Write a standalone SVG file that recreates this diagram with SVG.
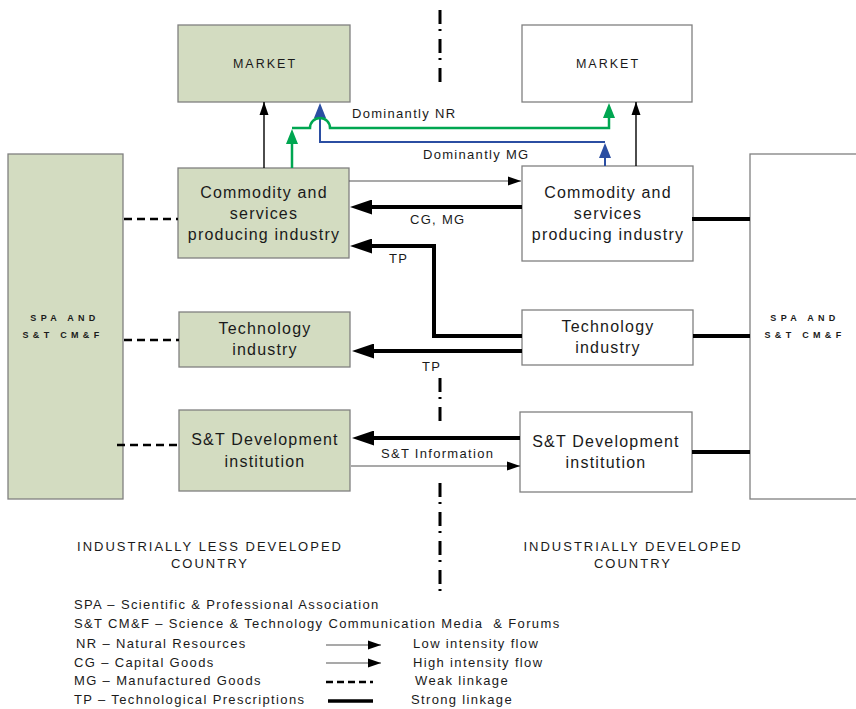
<svg xmlns="http://www.w3.org/2000/svg" width="856" height="709" viewBox="0 0 856 709">
<style>
.box{stroke:#808080;stroke-width:1.3}
.g{fill:#d3dcc1}
.w{fill:#ffffff}
text{font-family:"Liberation Sans",Arial,sans-serif;fill:#1a1a1a}
.nt{font-size:16px;letter-spacing:1.2px;text-anchor:middle}
.mk{font-size:12.5px;letter-spacing:2px;text-anchor:middle}
.lb{font-size:13px;letter-spacing:1.3px}
.lg{font-size:13px;letter-spacing:1.35px}
.ct{font-size:13px;letter-spacing:2px;text-anchor:middle}
.spa{font-family:"Liberation Sans Narrow","Liberation Sans",sans-serif;font-size:9px;font-weight:bold;letter-spacing:4.3px;text-anchor:middle}
.thin{fill:none;stroke:#555;stroke-width:1.1}
.blk{fill:none;stroke:#000;stroke-width:1.4}
.thick{fill:none;stroke:#000;stroke-width:4}
.weak{fill:none;stroke:#000;stroke-width:2.5;stroke-dasharray:8 5}
.strong{fill:none;stroke:#000;stroke-width:4}
.grn{fill:none;stroke:#00a651;stroke-width:2.5}
.blu{fill:none;stroke:#2b4ea2;stroke-width:2}
.dd{fill:none;stroke:#000;stroke-width:3;stroke-dasharray:14 5 2 8}
</style>
<defs>
<marker id="ah" markerUnits="userSpaceOnUse" markerWidth="14" markerHeight="10" refX="13" refY="5" orient="auto"><path d="M0,0.5 L13,5 L0,9.5 z" fill="#000"/></marker>
<marker id="ahT" markerUnits="userSpaceOnUse" markerWidth="23" markerHeight="15" refX="1" refY="7.5" orient="auto"><path d="M0,0 L22,7.5 L0,15 z" fill="#000"/></marker>
<marker id="ahG" markerUnits="userSpaceOnUse" markerWidth="16" markerHeight="12" refX="1" refY="6" orient="auto"><path d="M0,0 L15,6 L0,12 z" fill="#00a651"/></marker>
<marker id="ahB" markerUnits="userSpaceOnUse" markerWidth="16" markerHeight="12" refX="1" refY="6" orient="auto"><path d="M0,0 L15,6 L0,12 z" fill="#2b4ea2"/></marker>
</defs>

<g id="divider">
<path class="dd" d="M440,10 V83"/>
<path class="dd" d="M440,378 V422"/>
<path class="dd" d="M440,483 V593"/>
</g>

<g id="spa-left"><rect class="box g" x="8" y="154" width="115" height="345"/>
<text class="spa" x="65" y="321">SPA AND</text><text class="spa" x="63" y="338">S&amp;T CM&amp;F</text></g>
<g id="spa-right"><rect class="box w" x="750" y="154" width="112" height="345"/>
<text class="spa" x="805" y="321">SPA AND</text><text class="spa" x="805" y="338">S&amp;T CM&amp;F</text></g>

<g id="market-left"><rect class="box g" x="178" y="25" width="172" height="77"/><text class="mk" x="265" y="68">MARKET</text></g>
<g id="market-right"><rect class="box w" x="522" y="25" width="170" height="77"/><text class="mk" x="608" y="68">MARKET</text></g>

<g id="commodity-left"><rect class="box g" x="178" y="168" width="171" height="90"/>
<text class="nt" x="264" y="198">Commodity and</text><text class="nt" x="264" y="219">services</text><text class="nt" x="264" y="240">producing industry</text></g>
<g id="commodity-right"><rect class="box w" x="522" y="166" width="171" height="95"/>
<text class="nt" x="608" y="198">Commodity and</text><text class="nt" x="608" y="219">services</text><text class="nt" x="608" y="240">producing industry</text></g>

<g id="tech-left"><rect class="box g" x="179" y="312" width="171" height="55"/>
<text class="nt" x="265" y="334">Technology</text><text class="nt" x="265" y="355">industry</text></g>
<g id="tech-right"><rect class="box w" x="522" y="310" width="171" height="55"/>
<text class="nt" x="608" y="332">Technology</text><text class="nt" x="608" y="353">industry</text></g>

<g id="st-left"><rect class="box g" x="179" y="410" width="171" height="81"/>
<text class="nt" x="265" y="445">S&amp;T Development</text><text class="nt" x="265" y="467">institution</text></g>
<g id="st-right"><rect class="box w" x="520" y="412" width="172" height="80"/>
<text class="nt" x="606" y="447">S&amp;T Development</text><text class="nt" x="606" y="468">institution</text></g>

<g id="connectors">
<path class="blk" d="M264,168 V102" marker-end="url(#ah)"/>
<path class="blk" d="M636,166 V102" marker-end="url(#ah)"/>
<path class="blu" d="M605,166 V157" marker-end="url(#ahB)"/>
<path class="blu" d="M605,142 H320 V117" marker-end="url(#ahB)"/>
<path class="grn" d="M292,168 V143" marker-end="url(#ahG)"/>
<path class="grn" d="M292,128 H310 A10,10 0 0 1 330,128 H609 V117" marker-end="url(#ahG)"/>
<path class="thin" d="M349,181 H521" marker-end="url(#ah)"/>
<path class="thick" d="M522,207 H371" marker-end="url(#ahT)"/>
<path class="thick" d="M522,336 H434 V246 H371" marker-end="url(#ahT)"/>
<path class="thick" d="M522,351 H373" marker-end="url(#ahT)"/>
<path class="thick" d="M520,438 H373" marker-end="url(#ahT)"/>
<path class="thin" d="M351,466 H520" marker-end="url(#ah)"/>
<path class="weak" d="M124,219 H178"/>
<path class="weak" d="M124,340 H179"/>
<path class="weak" d="M117,445 H179"/>
<path class="strong" d="M692,219 H750"/>
<path class="strong" d="M693,336 H750"/>
<path class="strong" d="M692,452 H750"/>
</g>

<g id="labels">
<text class="lb" x="352" y="118">Dominantly NR</text>
<text class="lb" x="423" y="159">Dominantly MG</text>
<text class="lb" x="410" y="224">CG, MG</text>
<text class="lb" x="389" y="263">TP</text>
<text class="lb" x="422" y="371">TP</text>
<text class="lb" x="381" y="458">S&amp;T Information</text>
<text class="ct" x="210" y="551">INDUSTRIALLY LESS DEVELOPED</text>
<text class="ct" x="210" y="568">COUNTRY</text>
<text class="ct" x="633" y="551">INDUSTRIALLY DEVELOPED</text>
<text class="ct" x="633" y="568">COUNTRY</text>
</g>

<g id="legend">
<text class="lg" x="74" y="609">SPA – Scientific &amp; Professional Association</text>
<text class="lg" x="74" y="628">S&amp;T CM&amp;F – Science &amp; Technology Communication Media&#160; &amp; Forums</text>
<text class="lg" x="76" y="648">NR – Natural Resources</text>
<text class="lg" x="74" y="667">CG – Capital Goods</text>
<text class="lg" x="74" y="685">MG – Manufactured Goods</text>
<text class="lg" x="74" y="704">TP – Technological Prescriptions</text>
<path class="thin" d="M326,645 H381" marker-end="url(#ah)"/>
<path class="thin" d="M326,663 H381" marker-end="url(#ah)"/>
<path class="weak" d="M326,682 H373" style="stroke-dasharray:7 4"/>
<path class="strong" d="M328,701 H373" style="stroke-width:3.5"/>
<text class="lg" x="413" y="648">Low intensity flow</text>
<text class="lg" x="413" y="667">High intensity flow</text>
<text class="lg" x="415" y="685">Weak linkage</text>
<text class="lg" x="411" y="704">Strong linkage</text>
</g>
</svg>
